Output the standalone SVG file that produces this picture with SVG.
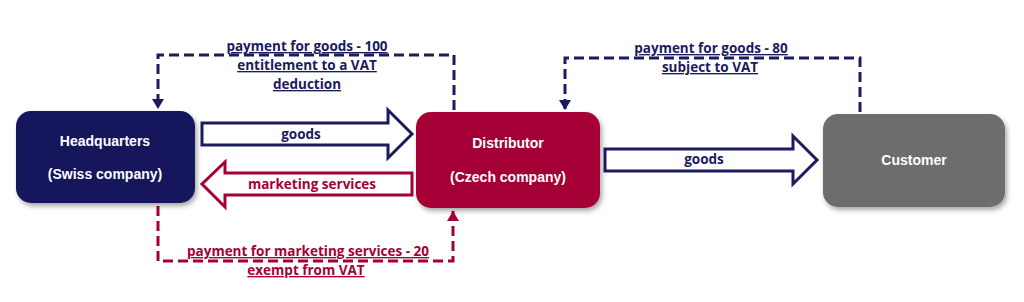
<svg xmlns="http://www.w3.org/2000/svg" width="1024" height="302" viewBox="0 0 1024 302">
<defs>
<filter id="sh" x="-20%" y="-20%" width="140%" height="150%">
<feDropShadow dx="2" dy="3" stdDeviation="2.5" flood-color="#000" flood-opacity="0.35"/>
</filter>
<marker id="ahN" markerWidth="10" markerHeight="12" refX="10" refY="6" orient="auto" markerUnits="userSpaceOnUse" viewBox="0 0 10 12">
<path d="M0,0 L10,6 L0,12 z" fill="#1b1b5e"/>
</marker>
<marker id="ahR" markerWidth="10" markerHeight="12" refX="10" refY="6" orient="auto" markerUnits="userSpaceOnUse" viewBox="0 0 10 12">
<path d="M0,0 L10,6 L0,12 z" fill="#a50034"/>
</marker>
</defs>
<style>
.node text{font-family:"Liberation Sans",Arial,sans-serif;font-weight:bold;font-size:14px;fill:#fff;text-anchor:middle}
.lbl{font-family:"Open Sans","Liberation Sans",sans-serif;font-weight:bold;font-size:13.5px;text-anchor:middle}
.navy{fill:#1b1b5e}
.red{fill:#a50034}
.u{text-decoration:underline}
.dashN{fill:none;stroke:#1b1b5e;stroke-width:3;stroke-dasharray:10 5}
.dashR{fill:none;stroke:#a50034;stroke-width:3;stroke-dasharray:10 5}
.blkN{fill:#fff;stroke:#1b1b5e;stroke-width:3;stroke-linejoin:miter}
.blkR{fill:#fff;stroke:#a50034;stroke-width:3;stroke-linejoin:miter}
</style>
<rect width="1024" height="302" fill="#fff"/>
<g id="connectors">
<path class="blkN" d="M202,123 H388 V110 L412,134 L388,158 V145 H202 Z"/>
<path class="blkR" d="M412,173 H225 V162 L202,184 L225,207 V195 H412 Z"/>
<path class="blkN" d="M605,149 H793 V136 L817,160 L793,184 V171 H605 Z"/>
<path class="dashN" d="M454,110 V55 H158 V109" marker-end="url(#ahN)"/>
<path class="dashN" d="M860,112 V58 H565 V110" marker-end="url(#ahN)"/>
<path class="dashR" d="M158,206 V261 H453 V211" marker-end="url(#ahR)"/>
<text class="lbl navy" x="301" y="139">goods</text>
<text class="lbl navy" x="704" y="164">goods</text>
<text class="lbl red" x="312" y="189">marketing services</text>
<text class="lbl navy u" x="307" y="51">payment for goods - 100</text>
<text class="lbl navy u" x="307" y="70">entitlement to a VAT</text>
<text class="lbl navy u" x="307" y="89">deduction</text>
<text class="lbl navy u" x="711" y="53">payment for goods - 80</text>
<text class="lbl navy u" x="710" y="72">subject to VAT</text>
<text class="lbl red u" x="308" y="256">payment for marketing services - 20</text>
<text class="lbl red u" x="306" y="275">exempt from VAT</text>
</g>
<g id="hq" class="node">
<rect x="16" y="111" width="179" height="92" rx="15" fill="#14145c" filter="url(#sh)"/>
<text x="105" y="146">Headquarters</text>
<text x="105" y="179">(Swiss company)</text>
</g>
<g id="distributor" class="node">
<rect x="416" y="112" width="184" height="96" rx="15" fill="#a50034" filter="url(#sh)"/>
<text x="508" y="148">Distributor</text>
<text x="508" y="182">(Czech company)</text>
</g>
<g id="customer" class="node">
<rect x="823" y="114" width="182" height="93" rx="15" fill="#6d6d6d" filter="url(#sh)"/>
<text x="914" y="165">Customer</text>
</g>
</svg>
